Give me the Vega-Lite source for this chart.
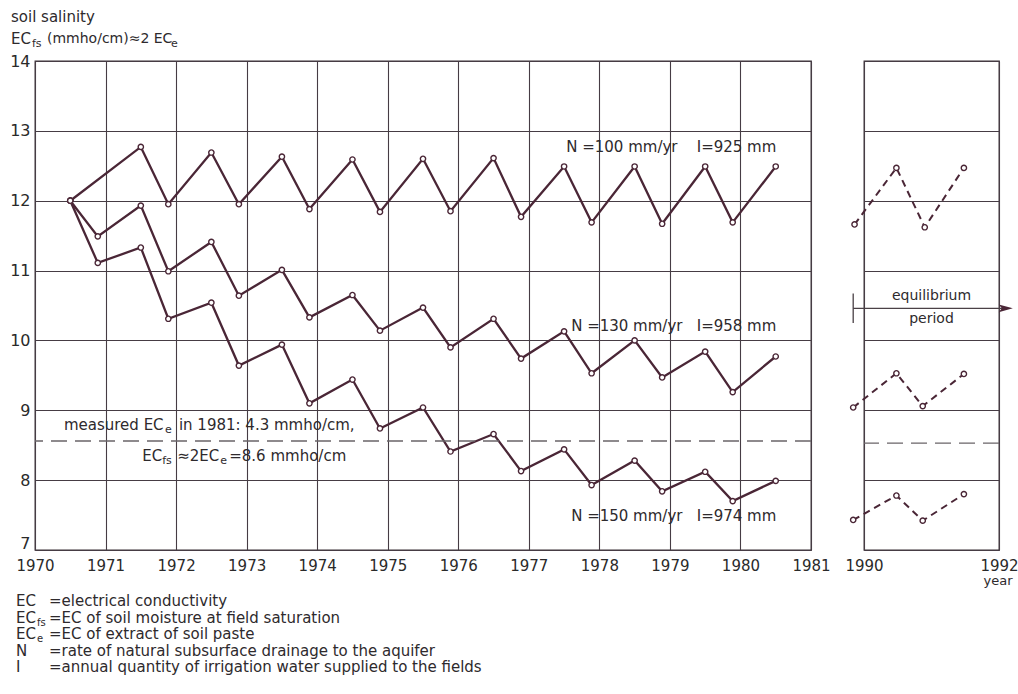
{
  "$schema": "https://vega.github.io/schema/vega-lite/v6.json",
  "padding": {"left": 8, "top": 9, "right": 2, "bottom": 2},
  "background": "white",
  "bounds": "flush",
  "spacing": 53,
  "config": {
    "font": "DejaVu Sans",
    "view": {"stroke": "#3a3036", "strokeWidth": 1.3},
    "axis": {"grid": true, "gridColor": "#463c44", "gridWidth": 1.1, "gridOpacity": 1, "ticks": false, "domain": false, "labelColor": "#2a2a2a", "title": null, "labelFlush": false, "labelOverlap": false},
    "text": {"color": "#2e2a2d", "align": "left", "baseline": "middle", "fontSize": 15}
  },
  "datasets": {
    "salinity": [
      {"series": "N100", "panel": "main", "year": 1970.5, "ec": 12.0},
      {"series": "N100", "panel": "main", "year": 1971.5, "ec": 12.77},
      {"series": "N100", "panel": "main", "year": 1971.89, "ec": 11.95},
      {"series": "N100", "panel": "main", "year": 1972.5, "ec": 12.69},
      {"series": "N100", "panel": "main", "year": 1972.89, "ec": 11.95},
      {"series": "N100", "panel": "main", "year": 1973.5, "ec": 12.63},
      {"series": "N100", "panel": "main", "year": 1973.89, "ec": 11.88},
      {"series": "N100", "panel": "main", "year": 1974.5, "ec": 12.59},
      {"series": "N100", "panel": "main", "year": 1974.89, "ec": 11.84},
      {"series": "N100", "panel": "main", "year": 1975.5, "ec": 12.6},
      {"series": "N100", "panel": "main", "year": 1975.89, "ec": 11.85},
      {"series": "N100", "panel": "main", "year": 1976.5, "ec": 12.61},
      {"series": "N100", "panel": "main", "year": 1976.89, "ec": 11.77},
      {"series": "N100", "panel": "main", "year": 1977.5, "ec": 12.49},
      {"series": "N100", "panel": "main", "year": 1977.89, "ec": 11.69},
      {"series": "N100", "panel": "main", "year": 1978.5, "ec": 12.49},
      {"series": "N100", "panel": "main", "year": 1978.89, "ec": 11.67},
      {"series": "N100", "panel": "main", "year": 1979.5, "ec": 12.49},
      {"series": "N100", "panel": "main", "year": 1979.89, "ec": 11.69},
      {"series": "N100", "panel": "main", "year": 1980.5, "ec": 12.49},
      {"series": "N130", "panel": "main", "year": 1970.5, "ec": 12.0},
      {"series": "N130", "panel": "main", "year": 1970.89, "ec": 11.49},
      {"series": "N130", "panel": "main", "year": 1971.5, "ec": 11.93},
      {"series": "N130", "panel": "main", "year": 1971.89, "ec": 10.99},
      {"series": "N130", "panel": "main", "year": 1972.5, "ec": 11.41},
      {"series": "N130", "panel": "main", "year": 1972.89, "ec": 10.64},
      {"series": "N130", "panel": "main", "year": 1973.5, "ec": 11.01},
      {"series": "N130", "panel": "main", "year": 1973.89, "ec": 10.33},
      {"series": "N130", "panel": "main", "year": 1974.5, "ec": 10.65},
      {"series": "N130", "panel": "main", "year": 1974.89, "ec": 10.14},
      {"series": "N130", "panel": "main", "year": 1975.5, "ec": 10.47},
      {"series": "N130", "panel": "main", "year": 1975.89, "ec": 9.9},
      {"series": "N130", "panel": "main", "year": 1976.5, "ec": 10.31},
      {"series": "N130", "panel": "main", "year": 1976.89, "ec": 9.74},
      {"series": "N130", "panel": "main", "year": 1977.5, "ec": 10.13},
      {"series": "N130", "panel": "main", "year": 1977.89, "ec": 9.53},
      {"series": "N130", "panel": "main", "year": 1978.5, "ec": 10.0},
      {"series": "N130", "panel": "main", "year": 1978.89, "ec": 9.47},
      {"series": "N130", "panel": "main", "year": 1979.5, "ec": 9.84},
      {"series": "N130", "panel": "main", "year": 1979.89, "ec": 9.26},
      {"series": "N130", "panel": "main", "year": 1980.5, "ec": 9.77},
      {"series": "N150", "panel": "main", "year": 1970.5, "ec": 12.0},
      {"series": "N150", "panel": "main", "year": 1970.89, "ec": 11.11},
      {"series": "N150", "panel": "main", "year": 1971.5, "ec": 11.33},
      {"series": "N150", "panel": "main", "year": 1971.89, "ec": 10.31},
      {"series": "N150", "panel": "main", "year": 1972.5, "ec": 10.54},
      {"series": "N150", "panel": "main", "year": 1972.89, "ec": 9.64},
      {"series": "N150", "panel": "main", "year": 1973.5, "ec": 9.94},
      {"series": "N150", "panel": "main", "year": 1973.89, "ec": 9.1},
      {"series": "N150", "panel": "main", "year": 1974.5, "ec": 9.44},
      {"series": "N150", "panel": "main", "year": 1974.89, "ec": 8.74},
      {"series": "N150", "panel": "main", "year": 1975.5, "ec": 9.04},
      {"series": "N150", "panel": "main", "year": 1975.89, "ec": 8.41},
      {"series": "N150", "panel": "main", "year": 1976.5, "ec": 8.66},
      {"series": "N150", "panel": "main", "year": 1976.89, "ec": 8.13},
      {"series": "N150", "panel": "main", "year": 1977.5, "ec": 8.44},
      {"series": "N150", "panel": "main", "year": 1977.89, "ec": 7.93},
      {"series": "N150", "panel": "main", "year": 1978.5, "ec": 8.28},
      {"series": "N150", "panel": "main", "year": 1978.89, "ec": 7.84},
      {"series": "N150", "panel": "main", "year": 1979.5, "ec": 8.12},
      {"series": "N150", "panel": "main", "year": 1979.89, "ec": 7.7},
      {"series": "N150", "panel": "main", "year": 1980.5, "ec": 7.99},
      {"series": "N100", "panel": "eq", "year": 1989.86, "ec": 11.66},
      {"series": "N100", "panel": "eq", "year": 1990.48, "ec": 12.47},
      {"series": "N100", "panel": "eq", "year": 1990.9, "ec": 11.62},
      {"series": "N100", "panel": "eq", "year": 1991.48, "ec": 12.47},
      {"series": "N130", "panel": "eq", "year": 1989.84, "ec": 9.04},
      {"series": "N130", "panel": "eq", "year": 1990.48, "ec": 9.53},
      {"series": "N130", "panel": "eq", "year": 1990.87, "ec": 9.06},
      {"series": "N130", "panel": "eq", "year": 1991.48, "ec": 9.52},
      {"series": "N150", "panel": "eq", "year": 1989.84, "ec": 7.43},
      {"series": "N150", "panel": "eq", "year": 1990.48, "ec": 7.78},
      {"series": "N150", "panel": "eq", "year": 1990.87, "ec": 7.42},
      {"series": "N150", "panel": "eq", "year": 1991.48, "ec": 7.8}
    ]
  },
  "hconcat": [
    {
      "width": 776,
      "height": 489,
      "layer": [
        {
          "data": {"name": "salinity"},
          "transform": [{"filter": "datum.panel == 'main'"}],
          "mark": {"type": "line", "color": "#4a2636", "strokeWidth": 2.3},
          "encoding": {
            "x": {"field": "year", "type": "quantitative", "scale": {"domain": [1970, 1981], "nice": false, "zero": false},
                  "axis": {"values": [1970, 1971, 1972, 1973, 1974, 1975, 1976, 1977, 1978, 1979, 1980, 1981], "format": "d", "labelFontSize": 15, "labelPadding": 8}},
            "y": {"field": "ec", "type": "quantitative", "scale": {"domain": [7, 14], "nice": false, "zero": false},
                  "axis": {"values": [7, 8, 9, 10, 11, 12, 13, 14], "format": "d", "labelFontSize": 16, "labelPadding": 5,
                           "labelOffset": {"condition": {"test": "datum.value == 7", "value": -7}, "value": 0}}},
            "detail": {"field": "series"}
          }
        },
        {
          "data": {"name": "salinity"},
          "transform": [{"filter": "datum.panel == 'main'"}],
          "mark": {"type": "point", "filled": true, "fill": "white", "stroke": "#4a2636", "strokeWidth": 1.4, "size": 28, "opacity": 1},
          "encoding": {
            "x": {"field": "year", "type": "quantitative"},
            "y": {"field": "ec", "type": "quantitative"},
            "detail": {"field": "series"}
          }
        },
        {
          "data": {"values": [{}]},
          "mark": {"type": "rule", "color": "#6a6468", "strokeWidth": 1.4, "strokeDash": [16, 8]},
          "encoding": {"y": {"datum": 8.56}}
        },
        {"data": {"values": [{}]}, "mark": {"type": "text", "text": "N =100 mm/yr"}, "encoding": {"x": {"datum": 1977.53}, "y": {"datum": 12.77}}},
        {"data": {"values": [{}]}, "mark": {"type": "text", "text": "I=925 mm"}, "encoding": {"x": {"datum": 1979.38}, "y": {"datum": 12.77}}},
        {"data": {"values": [{}]}, "mark": {"type": "text", "text": "N =130 mm/yr"}, "encoding": {"x": {"datum": 1977.6}, "y": {"datum": 10.2}}},
        {"data": {"values": [{}]}, "mark": {"type": "text", "text": "I=958 mm"}, "encoding": {"x": {"datum": 1979.38}, "y": {"datum": 10.2}}},
        {"data": {"values": [{}]}, "mark": {"type": "text", "text": "N =150 mm/yr"}, "encoding": {"x": {"datum": 1977.6}, "y": {"datum": 7.49}}},
        {"data": {"values": [{}]}, "mark": {"type": "text", "text": "I=974 mm"}, "encoding": {"x": {"datum": 1979.38}, "y": {"datum": 7.49}}},
        {"data": {"values": [{}]}, "mark": {"type": "text", "text": "measured EC"}, "encoding": {"x": {"datum": 1970.41}, "y": {"datum": 8.79}}},
        {"data": {"values": [{}]}, "mark": {"type": "text", "text": "e", "fontSize": 11, "dx": 101, "dy": 5}, "encoding": {"x": {"datum": 1970.41}, "y": {"datum": 8.79}}},
        {"data": {"values": [{}]}, "mark": {"type": "text", "text": "in 1981:  4.3 mmho/cm,", "dx": 115}, "encoding": {"x": {"datum": 1970.41}, "y": {"datum": 8.79}}},
        {"data": {"values": [{}]}, "mark": {"type": "text", "text": "EC"}, "encoding": {"x": {"datum": 1971.52}, "y": {"datum": 8.34}}},
        {"data": {"values": [{}]}, "mark": {"type": "text", "text": "fs", "fontSize": 11, "dx": 20, "dy": 5}, "encoding": {"x": {"datum": 1971.52}, "y": {"datum": 8.34}}},
        {"data": {"values": [{}]}, "mark": {"type": "text", "text": "≈2EC", "dx": 35}, "encoding": {"x": {"datum": 1971.52}, "y": {"datum": 8.34}}},
        {"data": {"values": [{}]}, "mark": {"type": "text", "text": "e", "fontSize": 11, "dx": 78, "dy": 5}, "encoding": {"x": {"datum": 1971.52}, "y": {"datum": 8.34}}},
        {"data": {"values": [{}]}, "mark": {"type": "text", "text": "=8.6 mmho/cm", "dx": 87}, "encoding": {"x": {"datum": 1971.52}, "y": {"datum": 8.34}}},
        {"data": {"values": [{}]}, "mark": {"type": "text", "text": "soil salinity", "dx": -24, "dy": -44}, "encoding": {"x": {"datum": 1970}, "y": {"datum": 14}}},
        {"data": {"values": [{}]}, "mark": {"type": "text", "text": "EC", "dx": -24, "dy": -22}, "encoding": {"x": {"datum": 1970}, "y": {"datum": 14}}},
        {"data": {"values": [{}]}, "mark": {"type": "text", "text": "fs", "fontSize": 11, "dx": -3, "dy": -17}, "encoding": {"x": {"datum": 1970}, "y": {"datum": 14}}},
        {"data": {"values": [{}]}, "mark": {"type": "text", "text": "(mmho/cm)≈2 EC", "fontSize": 14, "dx": 12, "dy": -22}, "encoding": {"x": {"datum": 1970}, "y": {"datum": 14}}},
        {"data": {"values": [{}]}, "mark": {"type": "text", "text": "e", "fontSize": 11, "dx": 136, "dy": -17}, "encoding": {"x": {"datum": 1970}, "y": {"datum": 14}}},
        {"data": {"values": [{}]}, "mark": {"type": "text", "text": "EC", "dx": -19, "dy": 51}, "encoding": {"x": {"datum": 1970}, "y": {"datum": 7}}},
        {"data": {"values": [{}]}, "mark": {"type": "text", "text": "=electrical conductivity", "dx": 14, "dy": 51}, "encoding": {"x": {"datum": 1970}, "y": {"datum": 7}}},
        {"data": {"values": [{}]}, "mark": {"type": "text", "text": "EC", "dx": -19, "dy": 68}, "encoding": {"x": {"datum": 1970}, "y": {"datum": 7}}},
        {"data": {"values": [{}]}, "mark": {"type": "text", "text": "fs", "fontSize": 10, "dx": 2, "dy": 73}, "encoding": {"x": {"datum": 1970}, "y": {"datum": 7}}},
        {"data": {"values": [{}]}, "mark": {"type": "text", "text": "=EC of soil moisture at field saturation", "dx": 14, "dy": 68}, "encoding": {"x": {"datum": 1970}, "y": {"datum": 7}}},
        {"data": {"values": [{}]}, "mark": {"type": "text", "text": "EC", "dx": -19, "dy": 84}, "encoding": {"x": {"datum": 1970}, "y": {"datum": 7}}},
        {"data": {"values": [{}]}, "mark": {"type": "text", "text": "e", "fontSize": 10, "dx": 2, "dy": 89}, "encoding": {"x": {"datum": 1970}, "y": {"datum": 7}}},
        {"data": {"values": [{}]}, "mark": {"type": "text", "text": "=EC of extract of soil paste", "dx": 14, "dy": 84}, "encoding": {"x": {"datum": 1970}, "y": {"datum": 7}}},
        {"data": {"values": [{}]}, "mark": {"type": "text", "text": "N", "dx": -19, "dy": 101}, "encoding": {"x": {"datum": 1970}, "y": {"datum": 7}}},
        {"data": {"values": [{}]}, "mark": {"type": "text", "text": "=rate of natural subsurface drainage to the aquifer", "dx": 14, "dy": 101}, "encoding": {"x": {"datum": 1970}, "y": {"datum": 7}}},
        {"data": {"values": [{}]}, "mark": {"type": "text", "text": "I", "dx": -19, "dy": 117}, "encoding": {"x": {"datum": 1970}, "y": {"datum": 7}}},
        {"data": {"values": [{}]}, "mark": {"type": "text", "text": "=annual quantity of irrigation water supplied to the fields", "dx": 14, "dy": 117}, "encoding": {"x": {"datum": 1970}, "y": {"datum": 7}}}
      ]
    },
    {
      "width": 135,
      "height": 489,
      "layer": [
        {
          "data": {"name": "salinity"},
          "transform": [{"filter": "datum.panel == 'eq'"}],
          "mark": {"type": "line", "color": "#4a2636", "strokeWidth": 2, "strokeDash": [7, 5]},
          "encoding": {
            "x": {"field": "year", "type": "quantitative", "scale": {"domain": [1990, 1992], "nice": false, "zero": false},
                  "axis": {"values": [1990, 1991, 1992], "format": "d", "labelFontSize": 15, "labelPadding": 8}},
            "y": {"field": "ec", "type": "quantitative", "scale": {"domain": [7, 14], "nice": false, "zero": false},
                  "axis": {"values": [7, 8, 9, 10, 11, 12, 13, 14], "labels": false}},
            "detail": {"field": "series"}
          }
        },
        {
          "data": {"name": "salinity"},
          "transform": [{"filter": "datum.panel == 'eq'"}],
          "mark": {"type": "point", "filled": true, "fill": "white", "stroke": "#4a2636", "strokeWidth": 1.4, "size": 28, "opacity": 1},
          "encoding": {
            "x": {"field": "year", "type": "quantitative"},
            "y": {"field": "ec", "type": "quantitative"},
            "detail": {"field": "series"}
          }
        },
        {
          "data": {"values": [{}]},
          "mark": {"type": "rule", "color": "#6a6468", "strokeWidth": 1.4, "strokeDash": [16, 8]},
          "encoding": {"y": {"datum": 8.53}}
        },
        {
          "data": {"values": [{}]},
          "mark": {"type": "rule", "color": "#4a4046", "strokeWidth": 1.3},
          "encoding": {"x": {"datum": 1989.84}, "x2": {"datum": 1992.1}, "y": {"datum": 10.46}}
        },
        {
          "data": {"values": [{}]},
          "mark": {"type": "rule", "color": "#4a4046", "strokeWidth": 1.3},
          "encoding": {"x": {"datum": 1989.84}, "y": {"datum": 10.25}, "y2": {"datum": 10.67}}
        },
        {
          "data": {"values": [{}]},
          "mark": {"type": "point", "shape": "M-1,-0.55L1,0L-1,0.55L-0.55,0Z", "filled": true, "color": "#4a2636", "size": 200, "opacity": 1},
          "encoding": {"x": {"datum": 1992.1}, "y": {"datum": 10.46}}
        },
        {"data": {"values": [{}]}, "mark": {"type": "text", "text": "equilibrium", "align": "center", "fontSize": 14, "dy": -12}, "encoding": {"x": {"datum": 1991}, "y": {"datum": 10.46}}},
        {"data": {"values": [{}]}, "mark": {"type": "text", "text": "period", "align": "center", "fontSize": 14, "dy": 11}, "encoding": {"x": {"datum": 1991}, "y": {"datum": 10.46}}},
        {"data": {"values": [{}]}, "mark": {"type": "text", "text": "year", "align": "center", "fontSize": 13, "dx": -1, "dy": 31}, "encoding": {"x": {"datum": 1992}, "y": {"datum": 7}}}
      ]
    }
  ]
}
